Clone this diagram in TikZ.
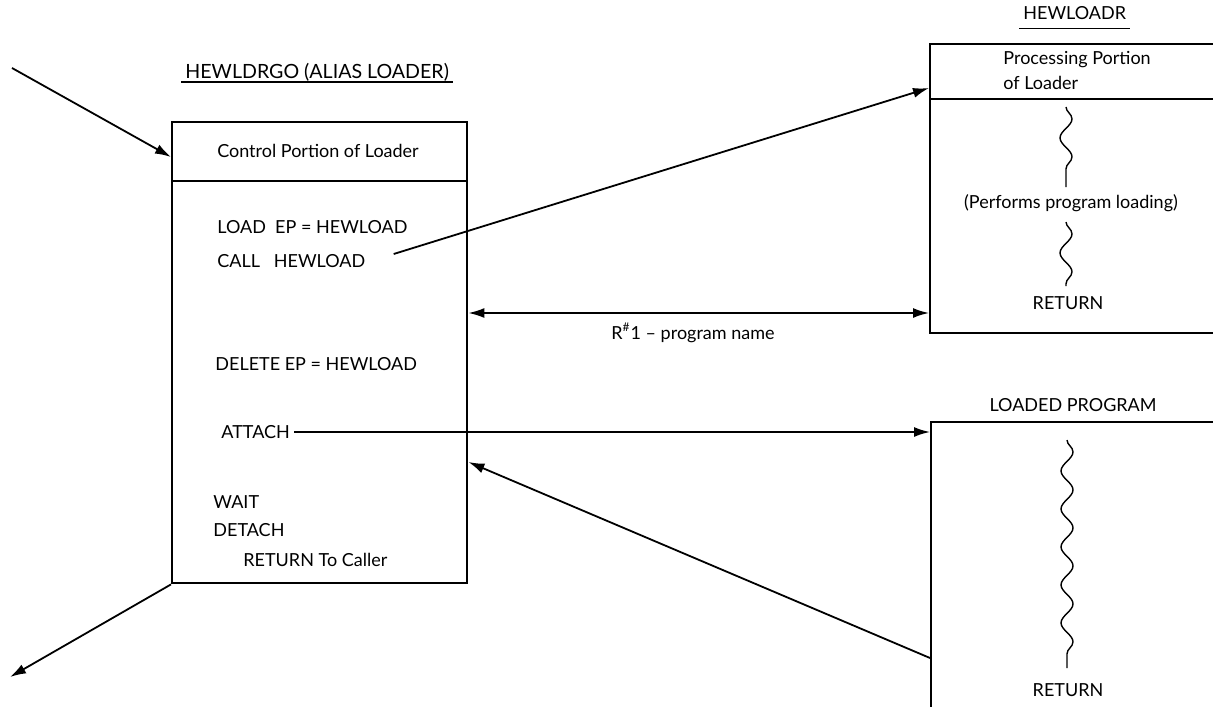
\documentclass[tikz,border=0pt]{standalone}
\usepackage{fontspec}
\setmainfont{Lato}
\usetikzlibrary{arrows.meta,positioning,decorations.pathmorphing}

\begin{document}
\begin{tikzpicture}[
  x=0.5pt, y=-0.5pt,
  font=\fontsize{9}{12.5}\selectfont,
  blk/.style={draw, line width=1.2pt, inner sep=0pt, anchor=north west},
  txt/.style={inner sep=2pt, anchor=west},
  arr/.style={-{Latex[length=8pt,width=5pt]}, line width=0.9pt},
  dbl/.style={{Latex[length=8pt,width=5pt]}-{Latex[length=8pt,width=5pt]}, line width=0.9pt},
  wavy/.style={decorate, decoration={snake, segment length=19pt, amplitude=3pt}, line width=0.7pt}
]
  \useasboundingbox (0,0) rectangle (1213,706);
  \clip (0,0) rectangle (1213,706);

  % levels used by the connectors
  \coordinate (inlvl) at (0,157);
  \coordinate (calllvl) at (0,88);
  \coordinate (r1lvl) at (0,313);
  \coordinate (backlvl) at (0,462);
  \coordinate (retlvl) at (0,658);

  % control portion (left)
  \node[blk, minimum width=147.5pt, minimum height=230.5pt] (ctl) at (171,121) {};
  \coordinate (ctlhd) at (0,181);
  \draw[line width=1.2pt] (ctl.west |- ctlhd) -- (ctl.east |- ctlhd);
  \node (ctltop) at (318,151) {Control Portion of Loader};
  \node[txt, font=\fontsize{9.8}{12}\selectfont] (ttl1) at (181,72) {HEWLDRGO (ALIAS LOADER)};
  \draw[line width=0.8pt] ([yshift=-2pt]ttl1.base west) -- ([yshift=-2pt]ttl1.base east);

  \node[txt] (load) at (213,227) {LOAD\ \ EP = HEWLOAD};
  \node[txt] (call) at (213,261) {CALL\ \ \ HEWLOAD};
  \node[txt] (del) at (211,364) {DELETE EP = HEWLOAD};
  \node[txt] (att) at (217,432) {ATTACH};
  \node[txt] (wait) at (209,502) {WAIT};
  \node[txt] (det) at (209,530) {DETACH};
  \node[txt] (ret) at (239,560) {RETURN To Caller};

  % processing portion (top right)
  \node[blk, minimum width=170pt, minimum height=144.5pt] (proc) at (929,43) {};
  \coordinate (prochd) at (0,99);
  \draw[line width=1.2pt] (proc.west |- prochd) -- (proc.east |- prochd);
  \node[txt, align=left] (prochead) at (999,70) {Processing Portion\\of Loader};
  \node[txt] (ttl2) at (1019,13) {HEWLOADR};
  \draw[line width=0.8pt] ([yshift=-4.5pt]ttl2.base west) -- ([yshift=-4.5pt]ttl2.base east);
  \draw[wavy] (1066,107) -- (1066,187);
  \node (perf) at (1071,203) {(Performs program loading)};
  \draw[wavy] (1066,222) -- (1066,286);
  \node (ret1) at (1068,303) {RETURN};

  % loaded program (bottom right)
  \node[blk, minimum width=170pt, minimum height=160pt] (ldd) at (930,421) {};
  \node (ttl3) at (1073,405) {LOADED PROGRAM};
  \draw[wavy] (1067,440) -- (1067,668);
  \node (ret2) at (1068,690) {RETURN};

  % connectors
  \coordinate (entry) at (12,68);
  \coordinate (exit) at (10,677);
  \draw[arr] (entry) -- (ctl.west |- inlvl);
  \draw[arr] (ctl.south west) -- (exit);
  \draw[arr] ([xshift=12pt,yshift=3.5pt]call.east) -- (proc.west |- calllvl);
  \draw[dbl] (ctl.east |- r1lvl) -- (proc.west |- r1lvl);
  \node (r1) at (693,333) {R\textsuperscript{\#}1 – program name};
  \draw[arr] (att.east) -- (att.east -| ldd.west);
  \draw[arr] (ldd.west |- retlvl) -- (ctl.east |- backlvl);
\end{tikzpicture}
\end{document}
